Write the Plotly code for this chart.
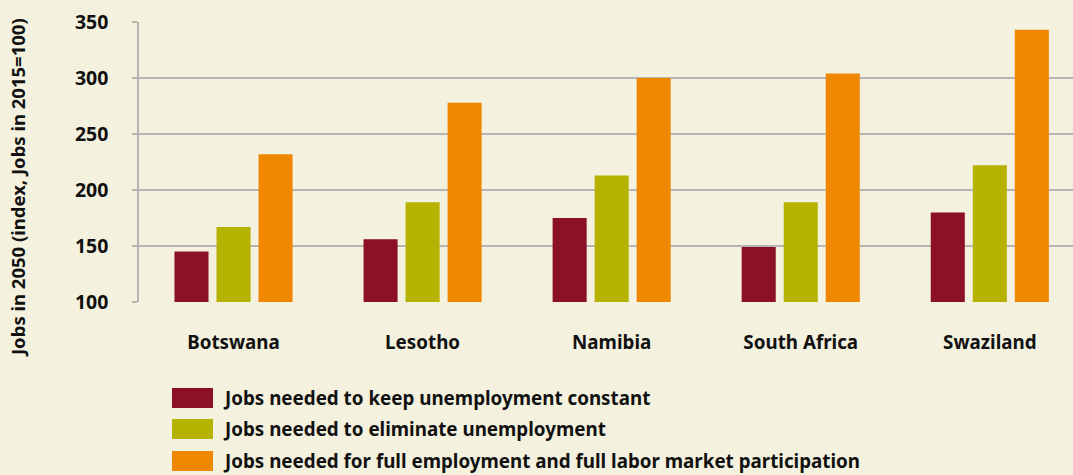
import plotly.graph_objects as go

countries = ["Botswana", "Lesotho", "Namibia", "South Africa", "Swaziland"]
series_names = [
    "Jobs needed to keep unemployment constant",
    "Jobs needed to eliminate unemployment",
    "Jobs needed for full employment and full labor market participation",
]
keep_constant = [145, 156, 175, 149, 180]
eliminate = [167, 189, 213, 189, 222]
full_participation = [232, 278, 300, 304, 343]
y_ticks = [100, 150, 200, 250, 300, 350]

colors = ["#8C1127", "#B5B300", "#F08700"]
bg = "#F4F1DF"
FONT = "Noto Sans"

W, H = 1073, 475
L, R, T, B = 139, 0, 22, 173
PW, PH = W - L - R, H - T - B

fig = go.Figure()
for name, vals, c in zip(series_names, [keep_constant, eliminate, full_participation], colors):
    fig.add_trace(go.Bar(x=countries, y=vals, name=name, marker=dict(color=c, line=dict(width=0)),
                         showlegend=False))

# custom legend (large swatches)
legend_rows = [398, 429, 461]
for name, c, py in zip(series_names, colors, legend_rows):
    x0 = (172 - L) / PW
    x1 = (213 - L) / PW
    y0 = (302 - (py - 10)) / PH
    y1 = (302 - (py + 10)) / PH
    fig.add_shape(type="rect", xref="paper", yref="paper", x0=x0, x1=x1, y0=y1, y1=y0,
                  fillcolor=c, line=dict(width=0))
    fig.add_annotation(xref="paper", yref="paper", x=(221 - L) / PW, y=(302 - py) / PH,
                       xanchor="left", yanchor="middle", showarrow=False,
                       text="<b>" + name + "</b>", font=dict(family=FONT, size=18.8, color="#111"))

fig.add_annotation(xref="paper", yref="paper", x=(17 - L) / PW, y=(302 - 188) / PH,
                   xanchor="center", yanchor="middle", showarrow=False, textangle=-90,
                   text="<b>Jobs in 2050 (index, Jobs in 2015=100)</b>",
                   font=dict(family=FONT, size=18.5, color="#111"))

fig.update_layout(
    width=W, height=H,
    margin=dict(l=L, r=R, t=T, b=B, pad=0),
    paper_bgcolor=bg, plot_bgcolor=bg,
    barmode="group", bargap=0.333, bargroupgap=0.19,
    font=dict(family=FONT, color="#111"),
    xaxis=dict(range=[-0.5, 4.44], showgrid=False, zeroline=False, showline=False,
               tickfont=dict(family=FONT, size=18.8, color="#111"),
               ticks="", ticklabelstandoff=27,
               tickvals=countries, ticktext=["<b>" + c + "</b>" for c in countries]),
    yaxis=dict(range=[100, 350], tickvals=y_ticks, ticktext=["<b>%d</b>" % v for v in y_ticks],
               showgrid=True, gridcolor="#B5B5B5", gridwidth=1.5,
               showline=True, linecolor="#B5B5B5", linewidth=1.5,
               ticks="outside", ticklen=5, tickcolor="#B5B5B5", tickwidth=1.5,
               ticklabelstandoff=20, zeroline=False,
               tickfont=dict(family=FONT, size=19.5, color="#111")),
)

fig.write_html("out.html", config={"displayModeBar": False},
               post_script="document.body.style.margin='0';document.body.style.background='%s';" % bg)
